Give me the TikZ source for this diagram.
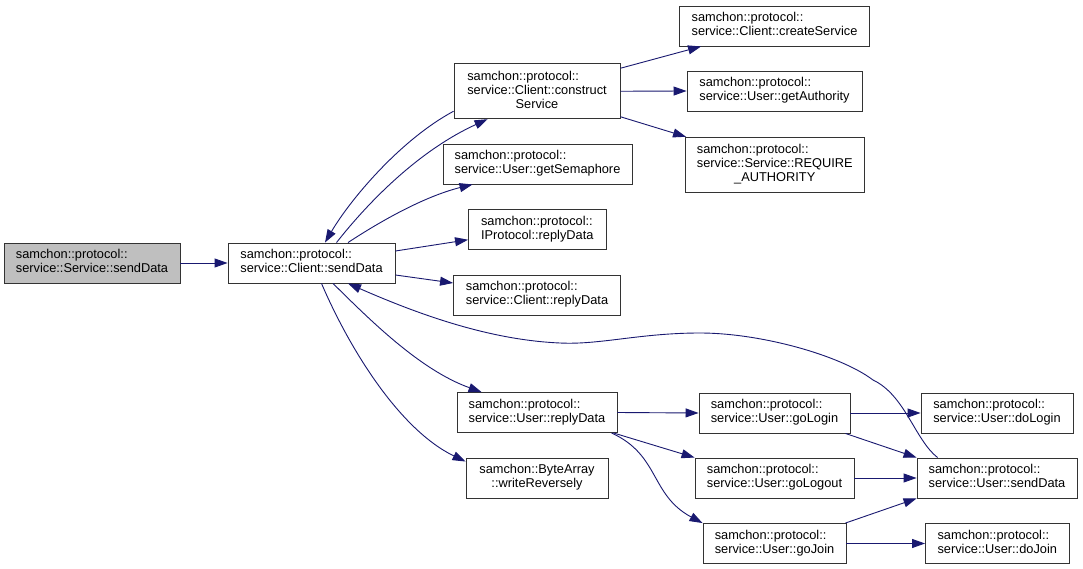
\documentclass[tikz,border=0pt]{standalone}
\usepackage{fontspec}
\setmainfont{Liberation Sans}
\usetikzlibrary{arrows.meta,calc}
\definecolor{edgeblue}{HTML}{191970}
\definecolor{boxline}{HTML}{333333}
\definecolor{grayfill}{HTML}{BFBFBF}
\begin{document}
\begin{tikzpicture}[x=1pt,y=-1pt,
  box/.style={draw=boxline,line width=0.9pt,fill=white,inner sep=0pt,
    font=\fontsize{12.8}{14}\selectfont,minimum height=40pt},
  e/.style={draw=edgeblue,line width=0.9pt,-{Triangle[length=13pt,width=9pt]}}]
\useasboundingbox (0,0) rectangle (1083,569);
\fill[white] (0,0) rectangle (1083,569);
% nodes
\node[box,fill=grayfill,minimum width=176pt] (n1) at (92,263) {\begin{tabular}{@{}l@{}}samchon::protocol::\\\multicolumn{1}{@{}c@{}}{service::Service::sendData}\end{tabular}};
\node[box,minimum width=167pt] (n2) at (311.5,263) {\begin{tabular}{@{}l@{}}samchon::protocol::\\\multicolumn{1}{@{}c@{}}{service::Client::sendData}\end{tabular}};
\node[box,minimum width=166pt,minimum height=55pt] (n3) at (537,91.25) {\begin{tabular}{@{}l@{}}samchon::protocol::\\service::Client::construct\\\multicolumn{1}{@{}c@{}}{Service}\end{tabular}};
\node[box,minimum width=189pt] (n4) at (537.5,164) {\begin{tabular}{@{}l@{}}samchon::protocol::\\\multicolumn{1}{@{}c@{}}{service::User::getSemaphore}\end{tabular}};
\node[box,minimum width=137.5pt] (n5) at (537.25,229.75) {\begin{tabular}{@{}l@{}}samchon::protocol::\\\multicolumn{1}{@{}c@{}}{IProtocol::replyData}\end{tabular}};
\node[box,minimum width=167pt] (n6) at (537,295) {\begin{tabular}{@{}l@{}}samchon::protocol::\\\multicolumn{1}{@{}c@{}}{service::Client::replyData}\end{tabular}};
\node[box,minimum width=160pt] (n7) at (537,412.5) {\begin{tabular}{@{}l@{}}samchon::protocol::\\\multicolumn{1}{@{}c@{}}{service::User::replyData}\end{tabular}};
\node[box,minimum width=142pt] (n8) at (537,478) {\begin{tabular}{@{}l@{}}samchon::ByteArray\\\multicolumn{1}{@{}c@{}}{::writeReversely}\end{tabular}};
\node[box,minimum width=190pt] (n9) at (774.5,26) {\begin{tabular}{@{}l@{}}samchon::protocol::\\\multicolumn{1}{@{}c@{}}{service::Client::createService}\end{tabular}};
\node[box,minimum width=175pt] (n10) at (774.5,91) {\begin{tabular}{@{}l@{}}samchon::protocol::\\\multicolumn{1}{@{}c@{}}{service::User::getAuthority}\end{tabular}};
\node[box,minimum width=178.5pt,minimum height=55pt] (n11) at (774.75,164.75) {\begin{tabular}{@{}l@{}}samchon::protocol::\\service::Service::REQUIRE\\\multicolumn{1}{@{}c@{}}{\_AUTHORITY}\end{tabular}};
\node[box,minimum width=151pt] (n12) at (774.5,413) {\begin{tabular}{@{}l@{}}samchon::protocol::\\\multicolumn{1}{@{}c@{}}{service::User::goLogin}\end{tabular}};
\node[box,minimum width=159pt] (n13) at (774.5,478) {\begin{tabular}{@{}l@{}}samchon::protocol::\\\multicolumn{1}{@{}c@{}}{service::User::goLogout}\end{tabular}};
\node[box,minimum width=143pt] (n14) at (774.5,543.5) {\begin{tabular}{@{}l@{}}samchon::protocol::\\\multicolumn{1}{@{}c@{}}{service::User::goJoin}\end{tabular}};
\node[box,minimum width=152pt] (n15) at (997,413) {\begin{tabular}{@{}l@{}}samchon::protocol::\\\multicolumn{1}{@{}c@{}}{service::User::doLogin}\end{tabular}};
\node[box,minimum width=160pt] (n16) at (997,478) {\begin{tabular}{@{}l@{}}samchon::protocol::\\\multicolumn{1}{@{}c@{}}{service::User::sendData}\end{tabular}};
\node[box,minimum width=143.5pt] (n17) at (997.25,543.5) {\begin{tabular}{@{}l@{}}samchon::protocol::\\\multicolumn{1}{@{}c@{}}{service::User::doJoin}\end{tabular}};
% edges
\draw[e] (n1.east) -- (n2.west);
\draw[e] ($(n2.north)+(25,0)$) .. controls (370,200) and (420,150) .. ($(n3.south west)+(34,0)$);
\draw[e] ($(n3.west)+(0,20)$) .. controls (400,140) and (350,200) .. ($(n2.north)+(13.5,0)$);
\draw[e] ($(n2.north)+(36.5,0)$) .. controls (390,215) and (430,195) .. ($(n4.south west)+(30,0)$);
\draw[e] ($(n2.east)+(0,-12)$) -- ($(n5.west)+(0,10)$);
\draw[e] ($(n2.east)+(0,12)$) -- ($(n6.west)+(0,-12)$);
\draw[e] ($(n2.south)+(21.5,0)$) .. controls (370,320) and (420,370) .. ($(n7.north west)+(25,0)$);
\draw[e] ($(n2.south)+(10,0)$) .. controls (350,350) and (400,430) .. ($(n8.north west)+(0,4)$);
\draw[e] ($(n16.north west)+(21,0)$) .. controls (915,440) and (905,395) .. (873,380)
  .. controls (840,355) and (760,333) .. (700,333)
  .. controls (640,333) and (600,345) .. (560,343)
  .. controls (490,340) and (420,315) .. ($(n2.south)+(36.5,0)$);
\draw[e] ($(n3.east)+(0,-23)$) -- ($(n9.south west)+(22,0)$);
\draw[e] (n3.east) -- (n10.west);
\draw[e] ($(n3.east)+(0,25.5)$) -- ($(n11.north west)+(1,0)$);
\draw[e] (n7.east) -- (n12.west);
\draw[e] ($(n7.south east)+(-4,0)$) -- (n13.north west);
\draw[e] ($(n7.south east)+(-6,0)$) .. controls (660,455) and (650,495) .. (n14.north west);
\draw[e] (n12.east) -- (n15.west);
\draw[e] ($(n12.south east)+(-5,0)$) -- (n16.north west);
\draw[e] (n13.east) -- (n16.west);
\draw[e] ($(n14.north east)+(-1,0)$) -- (n16.south west);
\draw[e] (n14.east) -- (n17.west);
\end{tikzpicture}
\end{document}
